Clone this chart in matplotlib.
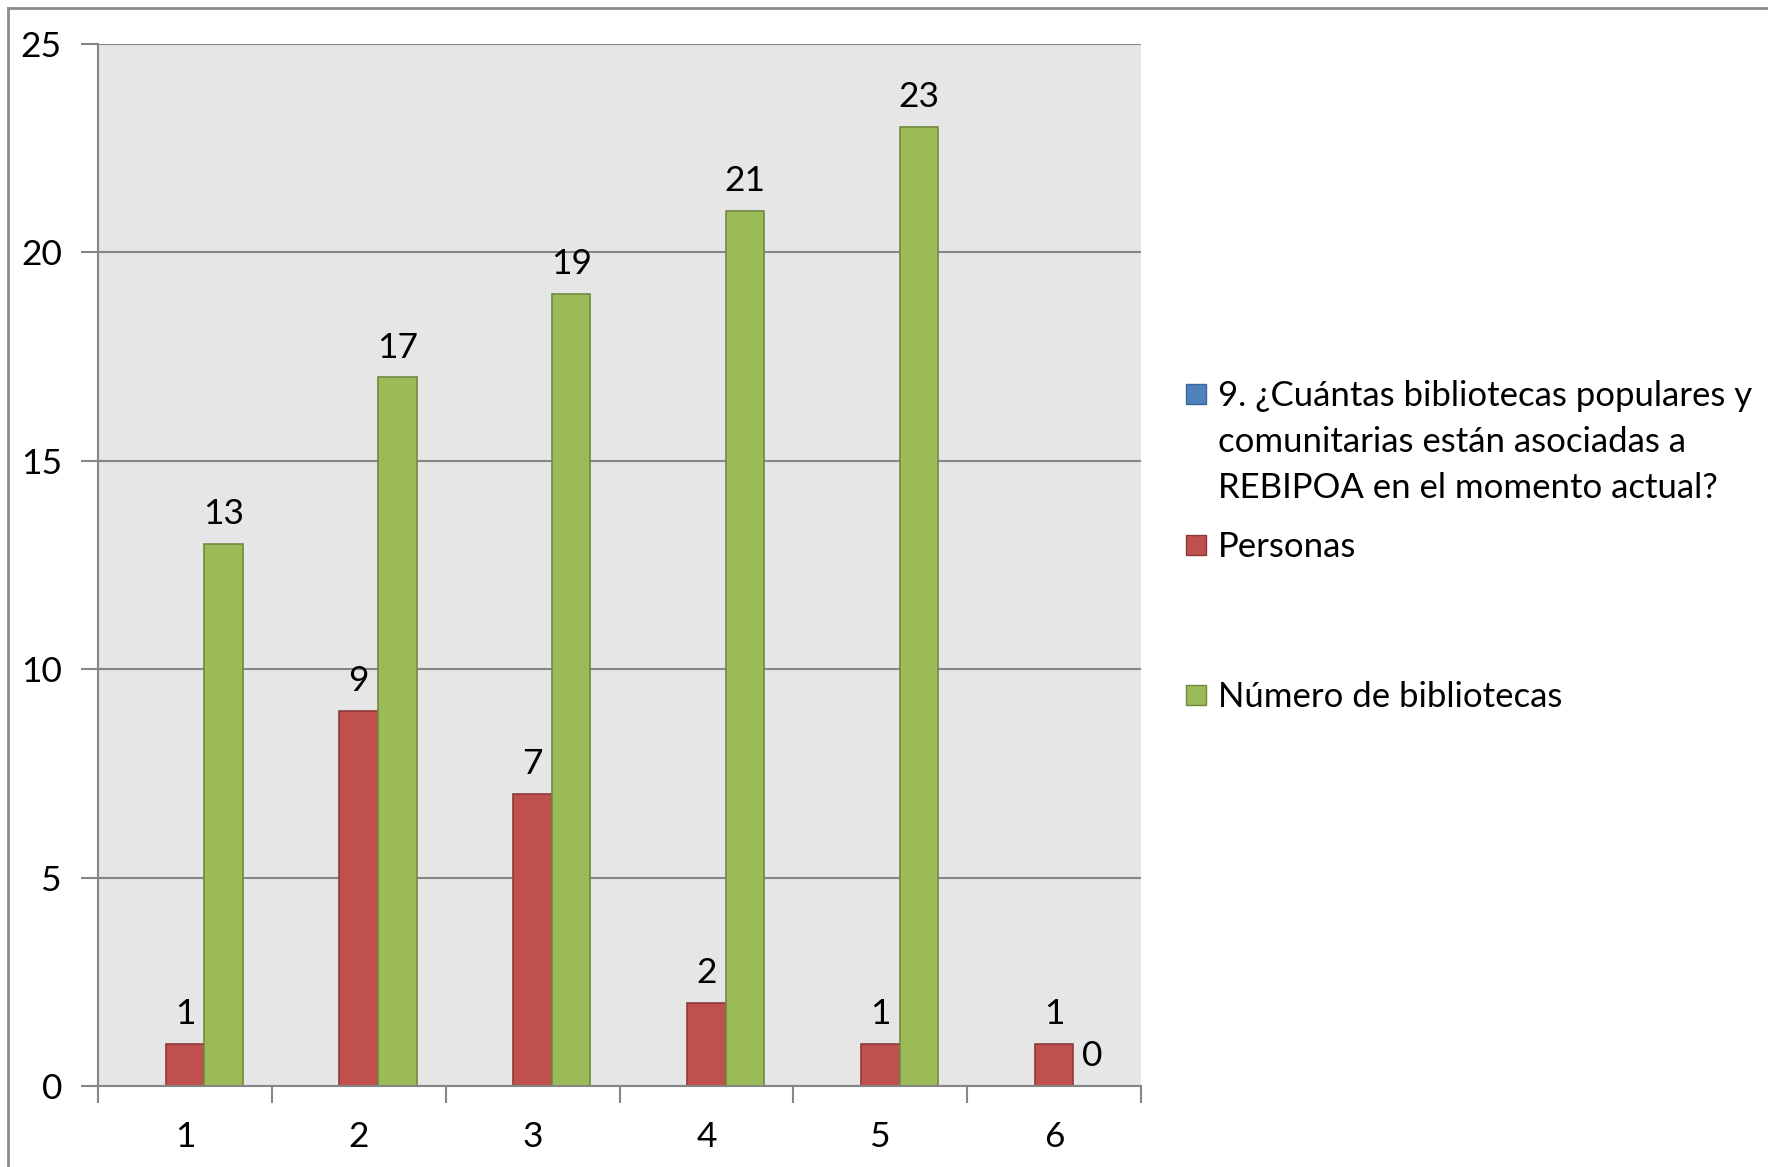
import matplotlib
matplotlib.use("Agg")
import matplotlib.pyplot as plt
from matplotlib.patches import Rectangle
from matplotlib.lines import Line2D
import numpy as np

plt.rcParams['font.family'] = ['Lato', 'DejaVu Sans']

categories = [1, 2, 3, 4, 5, 6]
personas = [1, 9, 7, 2, 1, 1]
bibliotecas = [13, 17, 19, 21, 23, 0]
legend_labels = ["9. ¿Cuántas bibliotecas populares y\ncomunitarias están asociadas a\nREBIPOA en el momento actual?",
                 "Personas", "Número de bibliotecas"]

blue, red, green = "#4F81BD", "#C0504D", "#9BBB59"
red_edge, green_edge = "#8C3A38", "#71893F"
fs = 25.5

fig = plt.figure(figsize=(17.68, 11.67), dpi=100)
ax = fig.add_axes([98 / 1768, 1 - 1086 / 1167, (1141 - 98) / 1768, (1086 - 44) / 1167])
ax.set_facecolor("#E6E6E6")

x = np.array(categories, dtype=float)
w = 0.222
b1 = ax.bar(x, personas, w, color=red, edgecolor=red_edge, linewidth=1.2, zorder=3)
b2 = ax.bar(x + w, bibliotecas, w, color=green, edgecolor=green_edge, linewidth=1.2, zorder=3)

for bars, vals in [(b1, personas), (b2, bibliotecas)]:
    for r, v in zip(bars, vals):
        ax.annotate(str(v), (r.get_x() + r.get_width() / 2, v), xytext=(0, 10),
                    textcoords="offset points", ha="center", va="bottom", fontsize=fs)

ax.set_xlim(0.5, 6.5)
ax.set_ylim(0, 25)
ax.set_yticks(range(0, 26, 5))
ax.set_xticks(categories)
ax.set_xticks(np.arange(0.5, 7, 1), minor=True)
ax.tick_params(axis="y", length=12, width=1.5, color="#868686", pad=14, labelsize=fs)
ax.tick_params(axis="x", which="major", length=0, pad=25, labelsize=fs)
ax.tick_params(axis="x", which="minor", length=12, width=1.5, color="#868686")
ax.grid(axis="y", color="#868686", linewidth=1.5, zorder=0)
ax.set_axisbelow(True)
for s in ["top", "right"]:
    ax.spines[s].set_visible(False)
for s in ["left", "bottom"]:
    ax.spines[s].set_color("#868686")
    ax.spines[s].set_linewidth(1.5)
    ax.spines[s].set_zorder(4)

# legend drawn by hand to keep the uneven spacing
W, H = 1768, 1167
entries = [(blue, "#3A6699", 394, 0), (red, red_edge, 545, 1), (green, green_edge, 695, 2)]
for fc, ec, yc, i in entries:
    fig.patches.append(Rectangle((1186 / W, 1 - (yc + 10) / H), 20 / W, 20 / H,
                                 transform=fig.transFigure, facecolor=fc, edgecolor=ec, linewidth=1))
    fig.text(1218 / W, 1 - (yc - 14) / H, legend_labels[i], fontsize=25, va="top", ha="left",
             linespacing=1.53)

# outer chart frame (top and left visible)
fig.lines.append(Line2D([8 / W, 1], [1 - 8 / H, 1 - 8 / H], transform=fig.transFigure, color="#8C8C8C", lw=2))
fig.lines.append(Line2D([8 / W, 8 / W], [0, 1 - 8 / H], transform=fig.transFigure, color="#8C8C8C", lw=2))

fig.savefig("out.png", dpi=100)
